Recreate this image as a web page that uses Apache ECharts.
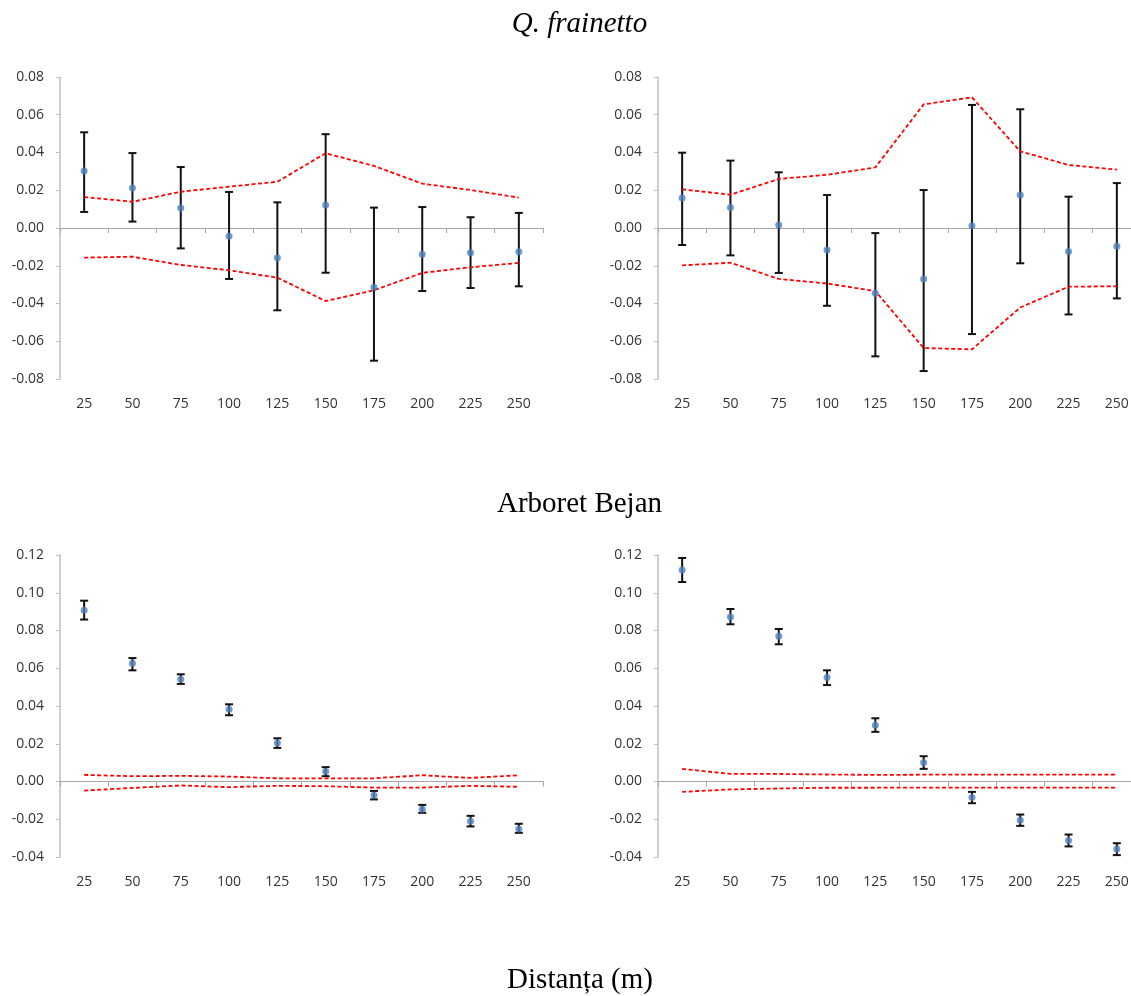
<!DOCTYPE html>
<html>
<head>
<meta charset="utf-8">
<script src="https://cdn.jsdelivr.net/npm/echarts@6/dist/echarts.min.js"></script>
<style>
  html, body { margin: 0; padding: 0; background: #fff; }
  #chart { width: 1131px; height: 996px; }
</style>
</head>
<body>
<div id="chart"></div>
<script>
// distante (m)
var categories = ['25', '50', '75', '100', '125', '150', '175', '200', '225', '250'];

// Q. frainetto, stanga
var fra1Mean = [0.0302, 0.0212, 0.0106, -0.0044, -0.0157, 0.0122, -0.0314, -0.0139, -0.0131, -0.0126];
var fra1Low  = [0.0085, 0.0034, -0.0108, -0.0270, -0.0436, -0.0237, -0.0703, -0.0334, -0.0318, -0.0309];
var fra1High = [0.0507, 0.0397, 0.0323, 0.0191, 0.0136, 0.0497, 0.0108, 0.0111, 0.0057, 0.0080];
var fra1EnvUp = [0.0164, 0.0139, 0.0192, 0.0219, 0.0245, 0.0396, 0.0329, 0.0235, 0.0201, 0.0161];
var fra1EnvLo = [-0.0157, -0.0152, -0.0196, -0.0224, -0.0263, -0.0387, -0.0330, -0.0238, -0.0208, -0.0185];

// Q. frainetto, dreapta
var fra2Mean = [0.0159, 0.0109, 0.0016, -0.0117, -0.0346, -0.0270, 0.0012, 0.0175, -0.0124, -0.0097];
var fra2Low  = [-0.0090, -0.0145, -0.0238, -0.0412, -0.0680, -0.0758, -0.0562, -0.0187, -0.0458, -0.0373];
var fra2High = [0.0399, 0.0357, 0.0295, 0.0175, -0.0027, 0.0201, 0.0652, 0.0629, 0.0166, 0.0238];
var fra2EnvUp = [0.0205, 0.0176, 0.0260, 0.0282, 0.0321, 0.0655, 0.0692, 0.0406, 0.0334, 0.0309];
var fra2EnvLo = [-0.0198, -0.0184, -0.0270, -0.0294, -0.0334, -0.0636, -0.0643, -0.0421, -0.0311, -0.0309];

// Arboret Bejan, stanga
var arb1Mean = [0.0907, 0.0626, 0.0542, 0.0383, 0.0204, 0.0053, -0.0073, -0.0147, -0.0210, -0.0251];
var arb1Low  = [0.0858, 0.0589, 0.0517, 0.0351, 0.0178, 0.0028, -0.0095, -0.0166, -0.0238, -0.0272];
var arb1High = [0.0958, 0.0654, 0.0568, 0.0409, 0.0229, 0.0076, -0.0050, -0.0124, -0.0182, -0.0224];
var arb1EnvUp = [0.0035, 0.0028, 0.0030, 0.0026, 0.0017, 0.0017, 0.0017, 0.0033, 0.0019, 0.0033];
var arb1EnvLo = [-0.0048, -0.0034, -0.0021, -0.0030, -0.0023, -0.0025, -0.0032, -0.0032, -0.0023, -0.0028];

// Arboret Bejan, dreapta
var arb2Mean = [0.1120, 0.0871, 0.0769, 0.0551, 0.0298, 0.0101, -0.0085, -0.0205, -0.0312, -0.0358];
var arb2Low  = [0.1057, 0.0833, 0.0727, 0.0511, 0.0263, 0.0067, -0.0115, -0.0235, -0.0344, -0.0390];
var arb2High = [0.1184, 0.0914, 0.0808, 0.0589, 0.0335, 0.0134, -0.0055, -0.0175, -0.0281, -0.0327];
var arb2EnvUp = [0.0067, 0.0040, 0.0040, 0.0037, 0.0035, 0.0036, 0.0037, 0.0036, 0.0036, 0.0037];
var arb2EnvLo = [-0.0055, -0.0042, -0.0037, -0.0033, -0.0033, -0.0032, -0.0032, -0.0032, -0.0032, -0.0032];

var panels = [
    {mean: fra1Mean, low: fra1Low, high: fra1High, envUp: fra1EnvUp, envLo: fra1EnvLo, min: -0.08, max: 0.08},
    {mean: fra2Mean, low: fra2Low, high: fra2High, envUp: fra2EnvUp, envLo: fra2EnvLo, min: -0.08, max: 0.08},
    {mean: arb1Mean, low: arb1Low, high: arb1High, envUp: arb1EnvUp, envLo: arb1EnvLo, min: -0.04, max: 0.12},
    {mean: arb2Mean, low: arb2Low, high: arb2High, envUp: arb2EnvUp, envLo: arb2EnvLo, min: -0.04, max: 0.12}
];

// graficele din dreapta ies putin din imagine
var gridPos = [
    {left: 60, top: 77, width: 483, height: 302},
    {left: 658, top: 77, width: 483, height: 302},
    {left: 60, top: 555, width: 483, height: 302},
    {left: 658, top: 555, width: 483, height: 302}
];

var labelFont = 'Open Sans';
var grids = [], xAxes = [], yAxes = [], series = [];

panels.forEach(function(p, i) {
    gridPos[i].outerBoundsMode = 'none';
    gridPos[i].containLabel = false;
    grids.push(gridPos[i]);

    // axa care trece prin zero (linie + tick-uri)
    xAxes.push({
        type: 'category', gridIndex: i, data: categories,
        axisLine: {onZero: true, lineStyle: {color: '#a6a6a6', width: 1}},
        axisTick: {show: true, length: 5, lineStyle: {color: '#a6a6a6'}},
        axisLabel: {show: false}
    });
    // etichetele de jos
    xAxes.push({
        type: 'category', gridIndex: i, data: categories, position: 'bottom',
        axisLine: {show: false, onZero: false},
        axisTick: {show: false},
        axisLabel: {margin: 18, fontSize: 14, fontFamily: labelFont, color: '#333'}
    });

    yAxes.push({
        type: 'value', gridIndex: i, min: p.min, max: p.max, interval: 0.02,
        splitLine: {show: false},
        axisLine: {show: true, lineStyle: {color: '#bfbfbf', width: 1.5}},
        axisTick: {show: true, length: 4, lineStyle: {color: '#bfbfbf'}},
        axisLabel: {
            margin: 16, fontSize: 14, fontFamily: labelFont, color: '#333',
            formatter: function(v) { return v.toFixed(2); }
        }
    });

    var xIdx = i * 2;
    [p.envUp, p.envLo].forEach(function(env) {
        series.push({
            type: 'line', xAxisIndex: xIdx, yAxisIndex: i, data: env,
            symbol: 'none', silent: true,
            lineStyle: {color: '#ff0000', width: 1.8, type: [4, 2.5]}
        });
    });

    series.push({
        type: 'custom', xAxisIndex: xIdx, yAxisIndex: i,
        data: categories.map(function(c, k) { return [k, p.low[k], p.high[k]]; }),
        renderItem: function(params, api) {
            var lo = api.coord([api.value(0), api.value(1)]);
            var hi = api.coord([api.value(0), api.value(2)]);
            var half = 4;
            var st = {stroke: '#111', lineWidth: 2};
            return {
                type: 'group',
                children: [
                    {type: 'line', shape: {x1: hi[0], y1: hi[1], x2: lo[0], y2: lo[1]}, style: st},
                    {type: 'line', shape: {x1: hi[0] - half, y1: hi[1], x2: hi[0] + half, y2: hi[1]}, style: st},
                    {type: 'line', shape: {x1: lo[0] - half, y1: lo[1], x2: lo[0] + half, y2: lo[1]}, style: st}
                ]
            };
        },
        z: 3
    });

    series.push({
        type: 'scatter', xAxisIndex: xIdx, yAxisIndex: i, data: p.mean,
        symbolSize: 7, itemStyle: {color: '#4f81bd'}, z: 4
    });
});

var titleStyle = {fill: '#000', align: 'center', verticalAlign: 'middle'};
var chart = echarts.init(document.getElementById('chart'));
chart.setOption({
    animation: false,
    backgroundColor: '#fff',
    grid: grids,
    xAxis: xAxes,
    yAxis: yAxes,
    series: series,
    graphic: [
        {type: 'text', x: 579.5, y: 24.5, style: $extend({text: 'Q. frainetto', font: 'italic 29px "Liberation Serif"'})},
        {type: 'text', x: 579.5, y: 504.5, style: $extend({text: 'Arboret Bejan', font: '29px "Liberation Serif"'})},
        {type: 'text', x: 580, y: 980.5, style: $extend({text: 'Distanța (m)', font: '29px "Liberation Serif"'})}
    ]
});

function $extend(o) {
    for (var k in titleStyle) { o[k] = titleStyle[k]; }
    return o;
}
</script>
</body>
</html>
